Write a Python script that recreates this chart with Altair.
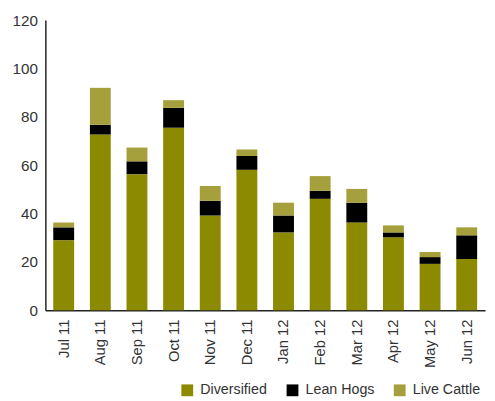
import altair as alt
import pandas as pd

months = ["Jul 11", "Aug 11", "Sep 11", "Oct 11", "Nov 11", "Dec 11",
          "Jan 12", "Feb 12", "Mar 12", "Apr 12", "May 12", "Jun 12"]
series = ["Diversified", "Lean Hogs", "Live Cattle"]
diversified = [29.0, 72.7, 56.3, 75.5, 39.2, 58.1, 32.2, 46.1, 36.3, 30.2, 19.2, 21.2]
lean_hogs = [5.3, 4.0, 5.3, 8.2, 6.1, 5.7, 7.0, 3.3, 8.2, 2.0, 2.8, 9.8]
live_cattle = [2.0, 15.3, 5.7, 3.2, 6.1, 2.7, 5.3, 6.1, 5.7, 2.9, 2.1, 3.3]
colors = ["#8C8A00", "#000000", "#A6A03C"]

rows = []
for i, m in enumerate(months):
    for j, (s, vals) in enumerate(zip(series, [diversified, lean_hogs, live_cattle])):
        rows.append({"month": m, "series": s, "value": vals[i], "ord": j})
df = pd.DataFrame(rows)

font = "Liberation Sans"

chart = alt.Chart(df).mark_bar().encode(
    x=alt.X("month:N", sort=months, title=None,
            scale=alt.Scale(paddingInner=0.43, paddingOuter=0.215),
            axis=alt.Axis(labelAngle=-90, ticks=False, labelPadding=9,
                          labelFontSize=15, labelColor="#333333", labelFont=font,
                          domainColor="#222222", domainWidth=1.5,
                          labelBaseline="middle", labelAlign="right")),
    y=alt.Y("value:Q", title=None,
            scale=alt.Scale(domain=[0, 120], nice=False),
            axis=alt.Axis(values=[0, 20, 40, 60, 80, 100, 120], ticks=False,
                          grid=False, labelPadding=8, labelFontSize=15.5,
                          labelColor="#333333", labelFont=font,
                          domainColor="#222222", domainWidth=1.5)),
    color=alt.Color("series:N", sort=series,
                    scale=alt.Scale(domain=series, range=colors),
                    legend=alt.Legend(title=None, orient="none", direction="horizontal",
                                      legendX=137, legendY=369,
                                      symbolType="square", symbolSize=144,
                                      symbolStrokeWidth=0, symbolOpacity=1,
                                      labelFontSize=14.5, labelColor="#333333",
                                      labelFont=font, labelOffset=6,
                                      columnPadding=18)),
    order=alt.Order("ord:Q", sort="ascending"),
).properties(
    width=447, height=295,
    autosize=alt.AutoSizeParams(type="none"),
    padding={"left": 38, "top": 9, "right": 2, "bottom": 95},
).configure_view(stroke=None)

chart.save("out.html", embed_options={"renderer": "svg", "actions": False})
